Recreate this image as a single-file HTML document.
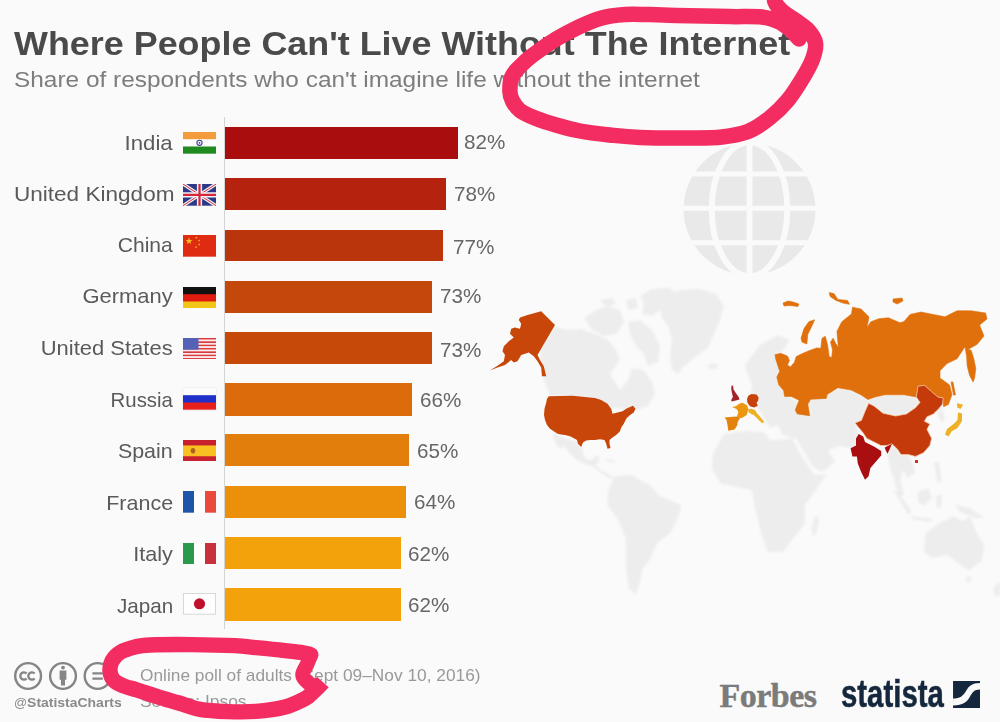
<!DOCTYPE html>
<html><head><meta charset="utf-8"><title>Where People Can't Live Without The Internet</title>
<style>
html,body{margin:0;padding:0}
body{width:1000px;height:722px;background:#fafafa;position:relative;overflow:hidden;font-family:"Liberation Sans",sans-serif}
</style></head><body>
<div style="position:absolute;left:14px;transform-origin:0 0;top:27.80px;font-size:32.6px;line-height:32.6px;font-weight:bold;color:#4a4a4a;white-space:nowrap;font-family:'Liberation Sans',serif;transform:scaleX(1.102);">Where People Can't Live Without The Internet</div>
<div style="position:absolute;left:14px;transform-origin:0 0;top:68.82px;font-size:22.3px;line-height:22.3px;font-weight:normal;color:#7d7d7d;white-space:nowrap;font-family:'Liberation Sans',serif;transform:scaleX(1.0946);">Share of respondents who can't imagine life without the internet</div>
<div style="position:absolute;left:224px;top:117px;width:1px;height:512px;background:#d4d4d4"></div>
<div style="position:absolute;left:225px;top:127.0px;width:232.5px;height:32.0px;background:#aa0d0d"></div>
<div style="position:absolute;right:827.1px;transform-origin:100% 0;top:132.56px;font-size:20.6px;line-height:20.6px;font-weight:normal;color:#5a5a5a;white-space:nowrap;font-family:'Liberation Sans',serif;transform:scaleX(1.078);">India</div>
<div style="position:absolute;left:464.0px;transform-origin:0 0;top:132.23px;font-size:20.4px;line-height:20.4px;font-weight:normal;color:#666;white-space:nowrap;font-family:'Liberation Sans',serif;transform:scaleX(1.012);">82%</div>
<div style="position:absolute;left:182.7px;top:132.0px;width:33px;height:21.7px"><svg width="33" height="21.7" viewBox="0 0 33 22" preserveAspectRatio="none" style="display:block;"><rect width="33" height="22" fill="#fdfdfd"/><rect width="33" height="7.3" fill="#f49b3c"/><rect y="14.7" width="33" height="7.3" fill="#1f8b1f"/><circle cx="16.5" cy="11" r="2.6" fill="none" stroke="#3a3f8f" stroke-width="1.1"/><circle cx="16.5" cy="11" r="0.9" fill="#3a3f8f"/></svg></div>
<div style="position:absolute;left:225px;top:178.3px;width:221.1px;height:31.9px;background:#b5230e"></div>
<div style="position:absolute;right:825.9px;transform-origin:100% 0;top:183.81px;font-size:20.6px;line-height:20.6px;font-weight:normal;color:#5a5a5a;white-space:nowrap;font-family:'Liberation Sans',serif;transform:scaleX(1.096);">United Kingdom</div>
<div style="position:absolute;left:454.2px;transform-origin:0 0;top:184.33px;font-size:20.4px;line-height:20.4px;font-weight:normal;color:#666;white-space:nowrap;font-family:'Liberation Sans',serif;transform:scaleX(1.012);">78%</div>
<div style="position:absolute;left:182.7px;top:184.0px;width:33px;height:21.7px"><svg width="33" height="21.7" viewBox="0 0 33 22" preserveAspectRatio="none" style="display:block;"><rect width="33" height="22" fill="#2b3a86"/><path d="M0 0L33 22M33 0L0 22" stroke="#f4f0f4" stroke-width="3.4"/><path d="M0 0L33 22M33 0L0 22" stroke="#d4283a" stroke-width="1.0"/><path d="M16.5 0V22M0 11H33" stroke="#f4f0f4" stroke-width="5.2"/><path d="M16.5 0V22M0 11H33" stroke="#d4283a" stroke-width="2.2"/></svg></div>
<div style="position:absolute;left:225px;top:229.9px;width:218.3px;height:31.6px;background:#bb350c"></div>
<div style="position:absolute;right:827.1px;transform-origin:100% 0;top:234.56px;font-size:20.6px;line-height:20.6px;font-weight:normal;color:#5a5a5a;white-space:nowrap;font-family:'Liberation Sans',serif;transform:scaleX(1.023);">China</div>
<div style="position:absolute;left:452.79999999999995px;transform-origin:0 0;top:236.53px;font-size:20.4px;line-height:20.4px;font-weight:normal;color:#666;white-space:nowrap;font-family:'Liberation Sans',serif;transform:scaleX(1.012);">77%</div>
<div style="position:absolute;left:182.7px;top:235.3px;width:33px;height:21.7px"><svg width="33" height="21.7" viewBox="0 0 33 22" preserveAspectRatio="none" style="display:block;"><rect width="33" height="22" fill="#de2b12"/><polygon fill="#fbc21e" points="6.00,2.50 6.87,5.00 9.52,5.06 7.41,6.66 8.17,9.19 6.00,7.68 3.83,9.19 4.59,6.66 2.48,5.06 5.13,5.00"/><polygon fill="#fbc21e" points="13.40,1.50 13.71,2.38 14.64,2.40 13.89,2.96 14.16,3.85 13.40,3.32 12.64,3.85 12.91,2.96 12.16,2.40 13.09,2.38"/><polygon fill="#fbc21e" points="16.20,4.20 16.51,5.08 17.44,5.10 16.69,5.66 16.96,6.55 16.20,6.02 15.44,6.55 15.71,5.66 14.96,5.10 15.89,5.08"/><polygon fill="#fbc21e" points="16.20,8.20 16.51,9.08 17.44,9.10 16.69,9.66 16.96,10.55 16.20,10.02 15.44,10.55 15.71,9.66 14.96,9.10 15.89,9.08"/><polygon fill="#fbc21e" points="13.00,11.00 13.31,11.88 14.24,11.90 13.49,12.46 13.76,13.35 13.00,12.82 12.24,13.35 12.51,12.46 11.76,11.90 12.69,11.88"/></svg></div>
<div style="position:absolute;left:225px;top:281.0px;width:206.6px;height:31.9px;background:#c4470b"></div>
<div style="position:absolute;right:827.1px;transform-origin:100% 0;top:286.31px;font-size:20.6px;line-height:20.6px;font-weight:normal;color:#5a5a5a;white-space:nowrap;font-family:'Liberation Sans',serif;transform:scaleX(1.066);">Germany</div>
<div style="position:absolute;left:439.5px;transform-origin:0 0;top:286.33px;font-size:20.4px;line-height:20.4px;font-weight:normal;color:#666;white-space:nowrap;font-family:'Liberation Sans',serif;transform:scaleX(1.012);">73%</div>
<div style="position:absolute;left:182.7px;top:286.6px;width:33px;height:21.7px"><svg width="33" height="21.7" viewBox="0 0 33 22" preserveAspectRatio="none" style="display:block;"><rect width="33" height="22" fill="#f2c619"/><rect width="33" height="14.7" fill="#e01b10"/><rect width="33" height="7.3" fill="#111"/></svg></div>
<div style="position:absolute;left:225px;top:331.9px;width:206.6px;height:31.8px;background:#c7490a"></div>
<div style="position:absolute;right:827.1px;transform-origin:100% 0;top:338.31px;font-size:20.6px;line-height:20.6px;font-weight:normal;color:#5a5a5a;white-space:nowrap;font-family:'Liberation Sans',serif;transform:scaleX(1.067);">United States</div>
<div style="position:absolute;left:439.5px;transform-origin:0 0;top:339.53px;font-size:20.4px;line-height:20.4px;font-weight:normal;color:#666;white-space:nowrap;font-family:'Liberation Sans',serif;transform:scaleX(1.012);">73%</div>
<div style="position:absolute;left:182.7px;top:337.5px;width:33px;height:21.7px"><svg width="33" height="21.7" viewBox="0 0 33 22" preserveAspectRatio="none" style="display:block;"><rect y="0.00" width="33" height="1.69" fill="#d83a3e"/><rect y="1.69" width="33" height="1.69" fill="#fbe9e9"/><rect y="3.38" width="33" height="1.69" fill="#d83a3e"/><rect y="5.08" width="33" height="1.69" fill="#fbe9e9"/><rect y="6.77" width="33" height="1.69" fill="#d83a3e"/><rect y="8.46" width="33" height="1.69" fill="#fbe9e9"/><rect y="10.15" width="33" height="1.69" fill="#d83a3e"/><rect y="11.85" width="33" height="1.69" fill="#fbe9e9"/><rect y="13.54" width="33" height="1.69" fill="#d83a3e"/><rect y="15.23" width="33" height="1.69" fill="#fbe9e9"/><rect y="16.92" width="33" height="1.69" fill="#d83a3e"/><rect y="18.62" width="33" height="1.69" fill="#fbe9e9"/><rect y="20.31" width="33" height="1.69" fill="#d83a3e"/><rect width="15.5" height="11.85" fill="#5362b6"/></svg></div>
<div style="position:absolute;left:225px;top:383.0px;width:187.0px;height:32.8px;background:#dc6c0b"></div>
<div style="position:absolute;right:827.1px;transform-origin:100% 0;top:389.56px;font-size:20.6px;line-height:20.6px;font-weight:normal;color:#5a5a5a;white-space:nowrap;font-family:'Liberation Sans',serif;transform:scaleX(0.991);">Russia</div>
<div style="position:absolute;left:419.6px;transform-origin:0 0;top:389.53px;font-size:20.4px;line-height:20.4px;font-weight:normal;color:#666;white-space:nowrap;font-family:'Liberation Sans',serif;transform:scaleX(1.012);">66%</div>
<div style="position:absolute;left:182.7px;top:388.4px;width:33px;height:21.7px"><svg width="33" height="21.7" viewBox="0 0 33 22" preserveAspectRatio="none" style="display:block;box-shadow:0 0 1px #bbb"><rect width="33" height="22" fill="#e8201c"/><rect width="33" height="14.7" fill="#2030c8"/><rect width="33" height="7.3" fill="#fcfcfc"/></svg></div>
<div style="position:absolute;left:225px;top:434.4px;width:184.1px;height:31.9px;background:#e27e0b"></div>
<div style="position:absolute;right:827.1px;transform-origin:100% 0;top:441.31px;font-size:20.6px;line-height:20.6px;font-weight:normal;color:#5a5a5a;white-space:nowrap;font-family:'Liberation Sans',serif;transform:scaleX(1.04);">Spain</div>
<div style="position:absolute;left:417.20000000000005px;transform-origin:0 0;top:440.73px;font-size:20.4px;line-height:20.4px;font-weight:normal;color:#666;white-space:nowrap;font-family:'Liberation Sans',serif;transform:scaleX(1.012);">65%</div>
<div style="position:absolute;left:182.7px;top:439.8px;width:33px;height:21.7px"><svg width="33" height="21.7" viewBox="0 0 33 22" preserveAspectRatio="none" style="display:block;"><rect width="33" height="22" fill="#c8202c"/><rect y="5.5" width="33" height="11" fill="#f8c020"/><ellipse cx="10" cy="11" rx="2.3" ry="2.8" fill="#b06020"/></svg></div>
<div style="position:absolute;left:225px;top:486.0px;width:181.3px;height:31.8px;background:#ec8f0a"></div>
<div style="position:absolute;right:827.1px;transform-origin:100% 0;top:492.56px;font-size:20.6px;line-height:20.6px;font-weight:normal;color:#5a5a5a;white-space:nowrap;font-family:'Liberation Sans',serif;transform:scaleX(1.043);">France</div>
<div style="position:absolute;left:414.0px;transform-origin:0 0;top:491.53px;font-size:20.4px;line-height:20.4px;font-weight:normal;color:#666;white-space:nowrap;font-family:'Liberation Sans',serif;transform:scaleX(1.012);">64%</div>
<div style="position:absolute;left:182.7px;top:490.9px;width:33px;height:21.7px"><svg width="33" height="21.7" viewBox="0 0 33 22" preserveAspectRatio="none" style="display:block;"><rect width="33" height="22" fill="#fdfdfd"/><rect width="11" height="22" fill="#1f55a8"/><rect x="22" width="11" height="22" fill="#ea4a3c"/></svg></div>
<div style="position:absolute;left:225px;top:537.0px;width:175.5px;height:32.3px;background:#f4a20c"></div>
<div style="position:absolute;right:827.1px;transform-origin:100% 0;top:543.81px;font-size:20.6px;line-height:20.6px;font-weight:normal;color:#5a5a5a;white-space:nowrap;font-family:'Liberation Sans',serif;transform:scaleX(1.049);">Italy</div>
<div style="position:absolute;left:408.20000000000005px;transform-origin:0 0;top:543.53px;font-size:20.4px;line-height:20.4px;font-weight:normal;color:#666;white-space:nowrap;font-family:'Liberation Sans',serif;transform:scaleX(1.012);">62%</div>
<div style="position:absolute;left:182.7px;top:542.7px;width:33px;height:21.7px"><svg width="33" height="21.7" viewBox="0 0 33 22" preserveAspectRatio="none" style="display:block;"><rect width="33" height="22" fill="#fdfdfd"/><rect width="11" height="22" fill="#2a9a4a"/><rect x="22" width="11" height="22" fill="#c8303c"/></svg></div>
<div style="position:absolute;left:225px;top:588.3px;width:175.5px;height:32.3px;background:#f4a20c"></div>
<div style="position:absolute;right:827.1px;transform-origin:100% 0;top:595.81px;font-size:20.6px;line-height:20.6px;font-weight:normal;color:#5a5a5a;white-space:nowrap;font-family:'Liberation Sans',serif;transform:scaleX(1.002);">Japan</div>
<div style="position:absolute;left:408.20000000000005px;transform-origin:0 0;top:594.83px;font-size:20.4px;line-height:20.4px;font-weight:normal;color:#666;white-space:nowrap;font-family:'Liberation Sans',serif;transform:scaleX(1.012);">62%</div>
<div style="position:absolute;left:182.7px;top:593.2px;width:33px;height:21.7px"><svg width="33" height="21.7" viewBox="0 0 33 22" preserveAspectRatio="none" style="display:block;"><rect x="0.5" y="0.5" width="32" height="21" fill="#fefefe" stroke="#d8d8d8" stroke-width="1"/><circle cx="16.5" cy="11" r="5.6" fill="#c0102c"/></svg></div>
<svg width="1000" height="722" viewBox="0 0 1000 722" style="position:absolute;left:0;top:0">
<circle cx="749.5" cy="209.2" r="66" fill="#e9e9e9"/>
<g stroke="#fafafa" fill="none">
<path d="M749.5 141.2V277.2" stroke-width="6"/>
<path d="M681.5 208.2H817.5" stroke-width="5"/>
<path d="M681.5 174.0H817.5" stroke-width="5"/>
<path d="M681.5 242.79999999999998H817.5" stroke-width="5"/>
<ellipse cx="749.5" cy="209.2" rx="37.8" ry="67" stroke-width="6"/>
</g></svg>
<svg width="1000" height="722" viewBox="0 0 1000 722" style="position:absolute;left:0;top:0">
<g style="filter:blur(0.8px)">
<polygon points="660.0,310.0 664.0,298.0 680.0,290.0 700.0,289.0 716.0,294.0 724.0,306.0 720.0,320.0 714.0,334.0 708.0,348.0 696.0,356.0 684.0,366.0 678.0,374.0 672.0,370.0 670.0,356.0 672.0,340.0 668.0,326.0 662.0,318.0" fill="#ededed" />
<polygon points="555.0,327.0 568.0,330.0 580.0,329.0 596.0,334.0 608.0,340.0 616.0,350.0 620.0,360.0 610.0,374.0 620.0,390.0 628.0,380.0 632.0,368.0 644.0,370.0 652.0,382.0 655.0,394.0 648.0,406.0 636.0,410.0 634.0,408.0 628.0,410.0 618.0,408.0 610.0,408.0 600.0,400.0 590.0,398.0 570.0,397.0 550.0,396.0 545.0,382.0 541.0,364.0 540.0,350.0" fill="#ededed" />
<polygon points="628.0,322.0 640.0,320.0 652.0,330.0 660.0,346.0 658.0,362.0 648.0,366.0 644.0,354.0 636.0,346.0 630.0,334.0" fill="#ededed" />
<polygon points="640.0,296.0 652.0,289.0 668.0,288.0 676.0,292.0 672.0,302.0 660.0,310.0 652.0,316.0 642.0,314.0 644.0,304.0" fill="#ededed" />
<polygon points="584.0,318.0 596.0,310.0 608.0,306.0 620.0,310.0 624.0,322.0 616.0,334.0 604.0,336.0 592.0,330.0" fill="#ededed" />
<polygon points="600.0,300.0 612.0,298.0 616.0,304.0 606.0,307.0" fill="#ededed" />
<polygon points="626.0,300.0 636.0,298.0 638.0,308.0 628.0,310.0" fill="#ededed" />
<polygon points="552.5,431.9 562.2,437.4 570.5,440.2 577.4,441.6 581.6,446.6 583.0,454.0 587.1,459.6 592.6,459.6 595.4,455.4 599.6,456.8 598.7,462.3 595.4,465.1 599.6,469.3 607.9,473.4 614.8,479.0 610.7,479.0 602.3,473.4 592.6,466.5 584.3,463.7 576.0,459.6 569.1,452.6 563.6,445.7 560.8,448.5 559.4,448.5 554.4,441.6" fill="#ededed" />
<polygon points="603.7,459.2 612.0,459.6 617.6,462.3 610.0,461.8" fill="#ededed" />
<polygon points="614.8,476.2 631.4,474.8 650.8,485.9 659.0,495.6 681.3,505.3 678.5,516.4 670.2,533.0 656.4,544.0 650.8,558.0 642.5,569.0 639.7,582.9 635.6,594.0 628.7,588.4 625.9,566.3 625.9,538.5 617.6,519.0 607.9,505.3 607.9,491.4" fill="#ededed" />
<polygon points="724.0,434.0 745.8,431.0 764.4,432.5 770.6,440.3 792.3,438.8 801.6,455.8 814.0,474.4 826.4,474.4 814.0,493.0 804.7,505.4 804.7,524.0 792.3,539.5 783.0,552.0 767.5,552.0 761.3,533.3 755.0,508.5 752.0,490.0 736.5,486.8 721.0,483.7 711.7,468.2 713.2,452.7" fill="#ededed" />
<polygon points="815.0,516.0 819.0,518.0 817.0,532.0 813.0,537.0 811.5,528.0" fill="#ededed" />
<polygon points="925.6,533.3 938.0,524.0 953.5,516.2 962.8,520.9 970.5,516.2 975.2,530.2 984.5,545.7 981.4,561.2 969.0,570.5 959.7,564.3 947.3,555.0 931.8,558.0 924.0,551.9" fill="#ededed" />
<polygon points="966.0,577.0 972.0,577.0 970.0,583.0 967.0,582.0" fill="#ededed" />
<polygon points="993.0,588.0 1000.0,582.0 1000.0,596.0 995.0,596.0" fill="#ededed" />
<polygon points="745.0,365.0 760.0,345.0 778.0,335.0 790.0,340.0 782.0,352.0 775.6,354.0 776.8,361.0 781.6,366.0 778.0,375.6 779.0,385.0 786.4,394.8 798.4,402.0 796.0,411.6 785.0,415.0 778.0,425.0 770.0,428.0 765.0,420.0 757.0,406.0 758.0,398.0 756.0,395.0 750.0,396.0 752.0,385.0 748.0,375.0" fill="#ededed" />
<polygon points="785.0,415.0 796.0,411.6 810.4,416.4 808.0,404.4 812.8,397.0 824.8,397.0 829.6,392.4 839.0,387.6 851.0,390.0 860.8,394.8 868.0,399.6 868.6,403.3 865.0,411.4 861.4,420.4 855.0,423.0 858.7,433.9 856.0,438.4 856.0,445.6 850.6,448.3 840.0,446.0 828.0,450.0 835.0,462.0 822.0,472.0 812.0,466.0 803.0,450.0 796.0,438.0 792.3,438.8 782.0,434.0 778.0,425.0" fill="#ededed" />
<polygon points="868.0,399.6 875.0,397.0 884.8,394.8 904.0,394.8 916.3,397.0 920.0,402.4 915.4,407.8 906.4,414.0 895.6,416.0 883.0,413.2 874.0,406.0 868.6,403.3" fill="#ededed" />
<polygon points="892.0,443.8 897.4,449.2 901.0,454.6 908.2,454.6 912.0,462.0 915.0,472.0 908.0,478.0 903.0,470.0 900.0,480.0 904.0,495.0 899.0,497.0 894.0,480.0 890.0,468.0 887.5,453.7" fill="#ededed" />
<polygon points="938.8,408.7 943.0,410.0 945.0,420.0 941.0,422.0 938.0,415.0" fill="#ededed" />
<polygon points="893.0,490.0 898.0,492.0 912.0,512.0 908.0,514.0" fill="#ededed" />
<polygon points="918.0,492.0 928.0,488.0 932.0,498.0 924.0,506.0 918.0,502.0" fill="#ededed" />
<polygon points="912.0,516.0 932.0,519.0 932.0,522.0 912.0,519.0" fill="#ededed" />
<polygon points="936.0,496.0 942.0,494.0 941.0,508.0 937.0,508.0" fill="#ededed" />
<polygon points="955.0,505.0 970.0,508.0 985.0,518.0 975.0,518.0 960.0,512.0" fill="#ededed" />
<polygon points="934.0,462.0 939.0,462.0 942.0,482.0 937.0,482.0" fill="#ededed" />
<polygon points="708.0,364.4 717.0,363.6 718.0,368.0 710.0,369.2" fill="#ededed" />
</g>
<g style="filter:blur(0.45px)" stroke-linejoin="round">
<polygon points="774.9,354.7 780.7,353.3 787.5,356.1 789.4,360.5 787.5,365.0 790.4,366.9 794.3,362.5 796.2,356.6 802.0,353.7 808.8,350.8 816.6,347.9 820.8,348.3 822.0,338.2 825.3,336.3 827.6,345.0 829.2,356.6 831.7,357.6 832.5,349.8 830.5,342.1 833.1,338.2 836.0,344.0 838.3,346.9 836.9,331.4 841.8,321.7 851.5,314.0 852.5,307.2 861.2,309.1 869.0,316.9 867.0,327.5 870.9,321.7 878.7,318.8 888.4,317.8 900.0,322.7 904.0,321.6 910.0,314.4 921.0,312.0 933.0,314.4 945.0,316.8 957.0,310.8 971.0,310.8 985.6,313.0 987.0,319.0 979.6,325.0 984.0,336.0 977.0,344.4 968.3,349.2 971.2,350.4 973.8,358.8 975.8,368.4 974.6,378.0 973.1,382.0 969.6,375.6 967.2,366.0 966.6,356.4 965.0,346.8 957.0,358.8 947.0,363.6 940.0,370.8 940.0,378.0 949.6,385.0 952.0,394.8 948.4,404.4 943.6,406.8 942.4,397.0 938.0,397.0 931.6,391.6 924.4,385.3 918.0,386.2 916.3,397.0 904.0,394.8 894.4,394.8 884.8,394.8 875.0,397.0 868.0,399.6 860.8,394.8 851.0,390.0 837.9,387.7 827.2,394.5 826.3,398.4 810.7,399.3 807.8,404.2 809.8,415.8 797.2,413.9 795.2,410.0 799.1,400.3 791.3,396.4 784.6,396.4 783.6,390.6 778.7,384.8 776.8,377.0 779.7,371.2 777.8,365.4 775.8,359.5" fill="#df700c" stroke="#df700c" stroke-width="0.6"/>
<polygon points="802.0,342.1 801.0,338.2 804.0,328.5 808.8,321.7 814.6,319.8 811.7,326.6 807.8,334.3 806.9,344.0" fill="#df700c" stroke="#df700c" stroke-width="0.6"/>
<polygon points="829.2,292.6 834.0,293.6 837.9,299.4 847.6,300.4 849.5,304.3 843.7,303.3 836.0,300.4 830.1,296.5" fill="#df700c" stroke="#df700c" stroke-width="0.6"/>
<polygon points="893.0,299.0 902.0,298.0 903.0,301.0 897.0,304.0 893.0,302.0" fill="#df700c" stroke="#df700c" stroke-width="0.6"/>
<polygon points="951.0,382.0 953.0,382.0 955.5,395.0 953.5,395.0" fill="#df700c" stroke="#df700c" stroke-width="0.6"/>
<polygon points="783.0,303.0 788.0,301.0 793.0,302.0 799.0,304.0 798.0,306.5 790.0,305.5 784.0,306.0" fill="#df700c" stroke="#df700c" stroke-width="0.6"/>
<polygon points="520.0,317.5 527.5,315.0 541.2,311.2 555.0,325.0 537.5,355.0 540.0,360.0 543.8,366.2 546.2,376.2 542.0,376.2 541.2,367.5 537.5,361.2 533.8,356.2 528.8,352.5 525.0,353.8 521.2,355.0 517.5,361.2 513.8,362.5 511.2,360.0 505.0,365.0 497.5,367.5 490.0,370.5 497.5,365.8 503.8,361.2 505.0,355.0 502.5,351.2 503.8,346.2 508.8,341.2 513.8,337.5 510.0,333.8 511.2,328.8 515.0,327.5 520.0,328.8 521.2,323.8 518.8,320.0" fill="#c8460a" />
<polygon points="548.8,396.2 572.5,395.8 595.0,398.0 601.2,400.0 607.5,403.8 611.2,408.8 612.5,413.8 617.5,412.5 622.5,411.2 626.2,408.8 630.0,407.0 633.0,405.8 635.5,408.8 633.8,412.5 630.0,415.0 626.2,418.8 623.8,423.8 621.2,427.5 620.0,431.2 616.2,435.0 612.5,437.5 609.5,440.0 609.5,443.8 610.5,448.0 607.5,448.8 606.2,443.8 604.5,440.0 600.0,439.2 595.0,440.0 590.0,440.0 586.2,440.5 583.0,442.5 581.2,447.0 578.0,443.8 577.0,440.0 572.5,437.5 570.0,436.2 565.0,435.0 561.2,434.5 557.5,433.8 553.8,431.2 550.0,428.8 547.0,425.0 545.0,420.0 544.0,415.0 544.5,408.8 546.2,402.5 547.0,398.8" fill="#c8460a" />
<polygon points="868.6,403.3 874.0,406.0 883.0,413.2 895.6,416.0 906.4,414.0 915.4,407.8 920.0,402.4 916.3,397.0 918.0,386.2 924.4,385.3 931.6,391.6 938.0,397.0 943.3,398.0 942.4,404.2 938.8,408.7 933.4,414.0 927.0,416.8 924.4,421.3 929.8,424.0 927.0,429.4 931.6,438.4 929.8,445.6 923.5,452.8 915.4,456.4 908.2,454.6 901.0,454.6 897.4,449.2 892.0,443.8 886.6,445.6 881.0,445.6 874.0,442.0 866.8,438.4 863.2,433.0 858.7,427.6 855.0,423.0 861.4,420.4 865.0,411.4" fill="#c53a0b" stroke="#f3c7a8" stroke-width="0.8"/>
<polygon points="915.0,460.0 918.0,460.0 918.0,463.0 915.0,463.0" fill="#c53a0b" />
<polygon points="858.7,433.9 863.2,436.6 865.0,442.0 874.0,446.5 881.2,451.0 881.2,455.5 875.8,461.8 870.4,468.0 868.6,476.2 865.0,479.8 861.4,472.6 857.8,463.6 856.9,456.4 852.4,456.4 850.6,448.3 856.0,445.6 856.0,438.4" fill="#a90f10" />
<polygon points="884.8,447.4 892.0,443.8 889.3,450.0 887.5,453.7 885.5,450.0" fill="#a90f10" />
<polygon points="956.8,403.3 963.0,404.5 961.0,408.7 957.5,408.0" fill="#eeb126" />
<polygon points="958.0,412.5 962.0,413.5 962.0,421.0 957.5,428.0 951.5,431.5 948.5,436.5 945.0,434.5 947.0,429.0 953.0,424.5 957.5,420.0" fill="#eeb126" />
<polygon points="731.6,385.4 733.1,385.8 733.5,389.5 735.8,392.9 738.7,397.0 739.5,399.5 735.8,400.4 731.6,401.6 731.2,399.9 732.9,397.0 732.0,392.9 731.2,389.1" fill="#a3222a" />
<polygon points="748.3,395.8 751.6,394.1 756.6,394.5 758.6,397.4 758.2,400.8 756.6,402.8 757.8,405.8 754.1,407.4 749.9,406.2 747.4,402.8 747.0,399.1" fill="#c7430c" />
<polygon points="732.0,407.0 735.8,406.2 739.1,403.7 742.4,402.8 747.0,405.3 748.3,408.7 747.4,412.4 746.6,414.9 742.4,417.8 738.7,418.2 737.0,416.6 738.3,412.0 736.6,409.1" fill="#ea960f" />
<polygon points="724.6,417.4 730.0,417.0 737.0,416.6 739.9,418.6 737.9,421.6 737.0,425.7 734.5,429.4 728.3,430.7 727.5,424.9 726.6,420.3" fill="#e3820e" />
<polygon points="748.3,409.1 751.6,408.7 755.3,410.3 756.6,412.8 759.9,416.6 764.0,421.6 762.8,423.6 760.3,421.6 756.6,417.8 753.7,414.9 750.7,413.7 748.3,412.0" fill="#eeb126" />
</g>
</svg>
<svg width="130" height="40" viewBox="0 655 130 40" style="position:absolute;left:0;top:655px">
<g fill="none" stroke="#858585" stroke-width="2.4">
<circle cx="28.1" cy="676" r="12.9"/><circle cx="63" cy="676" r="12.9"/><circle cx="97.6" cy="676" r="12.9"/>
<path d="M26.6 673.6a3.6 3.6 0 1 0 0 4.8M34.6 673.6a3.6 3.6 0 1 0 0 4.8" stroke-width="2.3"/>
<path d="M92.4 673.4H102.8M92.4 678.6H102.8" stroke-width="2.2"/>
</g>
<g fill="#858585"><circle cx="63" cy="667.6" r="1.9"/><path d="M59.6 670.6h6.8v9.2h-1.4v5.6h-4v-5.6h-1.4z"/></g>
</svg>
<div style="position:absolute;left:13.5px;transform-origin:0 0;top:696.26px;font-size:13.4px;line-height:13.4px;font-weight:bold;color:#8a8a8a;white-space:nowrap;font-family:'Liberation Sans',serif;transform:scaleX(1.042);"><span style="font-weight:normal;font-size:12.4px">@</span>StatistaCharts</div>
<div style="position:absolute;left:139.5px;transform-origin:0 0;top:666.91px;font-size:17px;line-height:17px;font-weight:normal;color:#999;white-space:nowrap;font-family:'Liberation Sans',serif;transform:scaleX(1.018);">Online poll of adults (Sept 09–Nov 10, 2016)</div>
<div style="position:absolute;left:139.5px;transform-origin:0 0;top:693.21px;font-size:17px;line-height:17px;font-weight:normal;color:#999;white-space:nowrap;font-family:'Liberation Sans',serif;transform:scaleX(1.025);">Source: Ipsos</div>
<div style="position:absolute;left:719.6px;transform-origin:0 0;top:678.92px;font-size:34px;line-height:34px;font-weight:bold;color:#7b7b7b;white-space:nowrap;font-family:'Liberation Serif',serif;transform:scaleX(1.0);letter-spacing:-0.55px;-webkit-text-stroke:0.45px #7b7b7b;">Forbes</div>
<div style="position:absolute;left:840.6px;transform-origin:0 0;top:674.89px;font-size:38.4px;line-height:38.4px;font-weight:bold;color:#14273d;white-space:nowrap;font-family:'Liberation Sans',serif;transform:scaleX(0.765);-webkit-text-stroke:0.5px #14273d;">statista</div>
<svg width="27.4" height="27" viewBox="0 0 27.3 27" style="position:absolute;left:952.6px;top:680.5px">
<rect width="27.3" height="27" fill="#14273d"/>
<path d="M0 17.5C7 17.5 10 15 13 10C16 5 19 2.1 27.3 2.1V8.4C21 8.4 19.5 11 17 15.5C14 21 10 24.5 0 24.5Z" fill="#fafafa"/>
</svg>
<svg width="1000" height="722" viewBox="0 0 1000 722" style="position:absolute;left:0;top:0">
<g fill="none" stroke="#f32d62" stroke-linecap="round" stroke-linejoin="round">
<path d="M774.0 -9.0C774.2 -7.2 773.7 -1.3 775.0 2.0C776.3 5.3 778.7 8.0 782.0 11.0C785.3 14.0 790.7 16.8 795.0 20.0C799.3 23.2 804.6 26.2 808.0 30.0C811.4 33.8 814.7 38.3 815.5 43.0C816.3 47.7 814.9 52.5 813.0 58.0C811.1 63.5 808.2 69.0 804.0 76.0C799.8 83.0 793.8 92.9 788.0 100.0C782.2 107.1 775.7 113.2 769.0 118.5C762.3 123.8 755.8 128.4 748.0 131.5C740.2 134.6 731.7 135.9 722.0 137.0C712.3 138.1 703.7 137.9 690.0 138.0C676.3 138.1 653.3 138.0 640.0 137.5C626.7 137.0 620.0 136.1 610.0 135.0C600.0 133.9 589.0 132.7 580.0 131.0C571.0 129.3 563.5 127.2 556.0 125.0C548.5 122.8 541.0 120.4 535.0 118.0C529.0 115.6 523.8 113.3 520.0 110.5C516.2 107.7 514.2 104.2 512.5 101.0C510.8 97.8 510.0 95.4 509.9 91.4C509.8 87.4 510.1 81.2 511.8 77.0C513.5 72.8 516.5 70.2 520.0 66.5C523.5 62.8 527.1 59.4 533.1 54.9C539.1 50.4 548.4 43.9 556.0 39.2C563.6 34.6 571.2 30.6 578.8 27.0C586.4 23.4 594.0 20.0 601.7 17.9C609.4 15.8 617.0 15.1 625.0 14.5C633.0 13.9 639.2 14.4 650.0 14.6C660.8 14.8 676.7 15.5 690.0 15.8C703.3 16.1 718.0 16.4 730.0 16.6C742.0 16.8 754.0 16.2 762.0 17.0C770.0 17.8 773.3 19.4 778.0 21.5C782.7 23.6 786.5 26.6 790.0 29.5C793.5 32.4 797.5 37.4 799.0 39.0" stroke-width="15.5"/>
<path d="M322.9 682.1C322.2 682.9 320.3 685.0 318.5 686.8C316.7 688.6 314.2 691.0 312.0 693.0C309.8 695.0 309.7 696.2 305.0 698.6C300.3 701.0 292.2 705.2 284.0 707.3C275.8 709.4 265.3 710.7 256.0 711.4C246.7 712.1 237.3 712.0 228.0 711.6C218.7 711.2 208.2 710.7 200.0 709.3C191.8 707.9 186.0 705.1 179.0 703.0C172.0 700.9 165.0 699.0 158.0 696.8C151.0 694.6 143.0 691.9 137.0 690.0C131.0 688.1 125.9 686.9 122.0 685.2C118.1 683.5 115.5 682.4 113.5 680.0C111.5 677.6 110.2 674.2 110.0 671.0C109.8 667.8 110.3 664.1 112.0 661.0C113.7 657.9 116.2 654.8 120.0 652.5C123.8 650.2 130.0 648.2 135.0 647.0C140.0 645.8 140.5 645.4 150.0 645.0C159.5 644.6 177.8 644.5 192.0 644.6C206.2 644.7 224.3 645.1 235.0 645.6C245.7 646.1 247.7 646.8 256.0 647.6C264.3 648.4 277.2 649.7 285.0 650.6C292.8 651.5 298.6 652.1 303.0 652.8C307.4 653.5 309.8 654.3 311.2 654.6" stroke-width="15.4" stroke-linecap="butt"/>
<path d="M311.2 654.6C310.5 656.2 308.4 661.1 307.0 664.5C305.6 667.9 302.3 672.0 302.5 675.0C302.7 678.0 305.6 680.6 308.0 682.6C310.4 684.6 315.5 686.3 317.0 687.0" stroke-width="14.6"/>
</g></svg>
</body></html>
